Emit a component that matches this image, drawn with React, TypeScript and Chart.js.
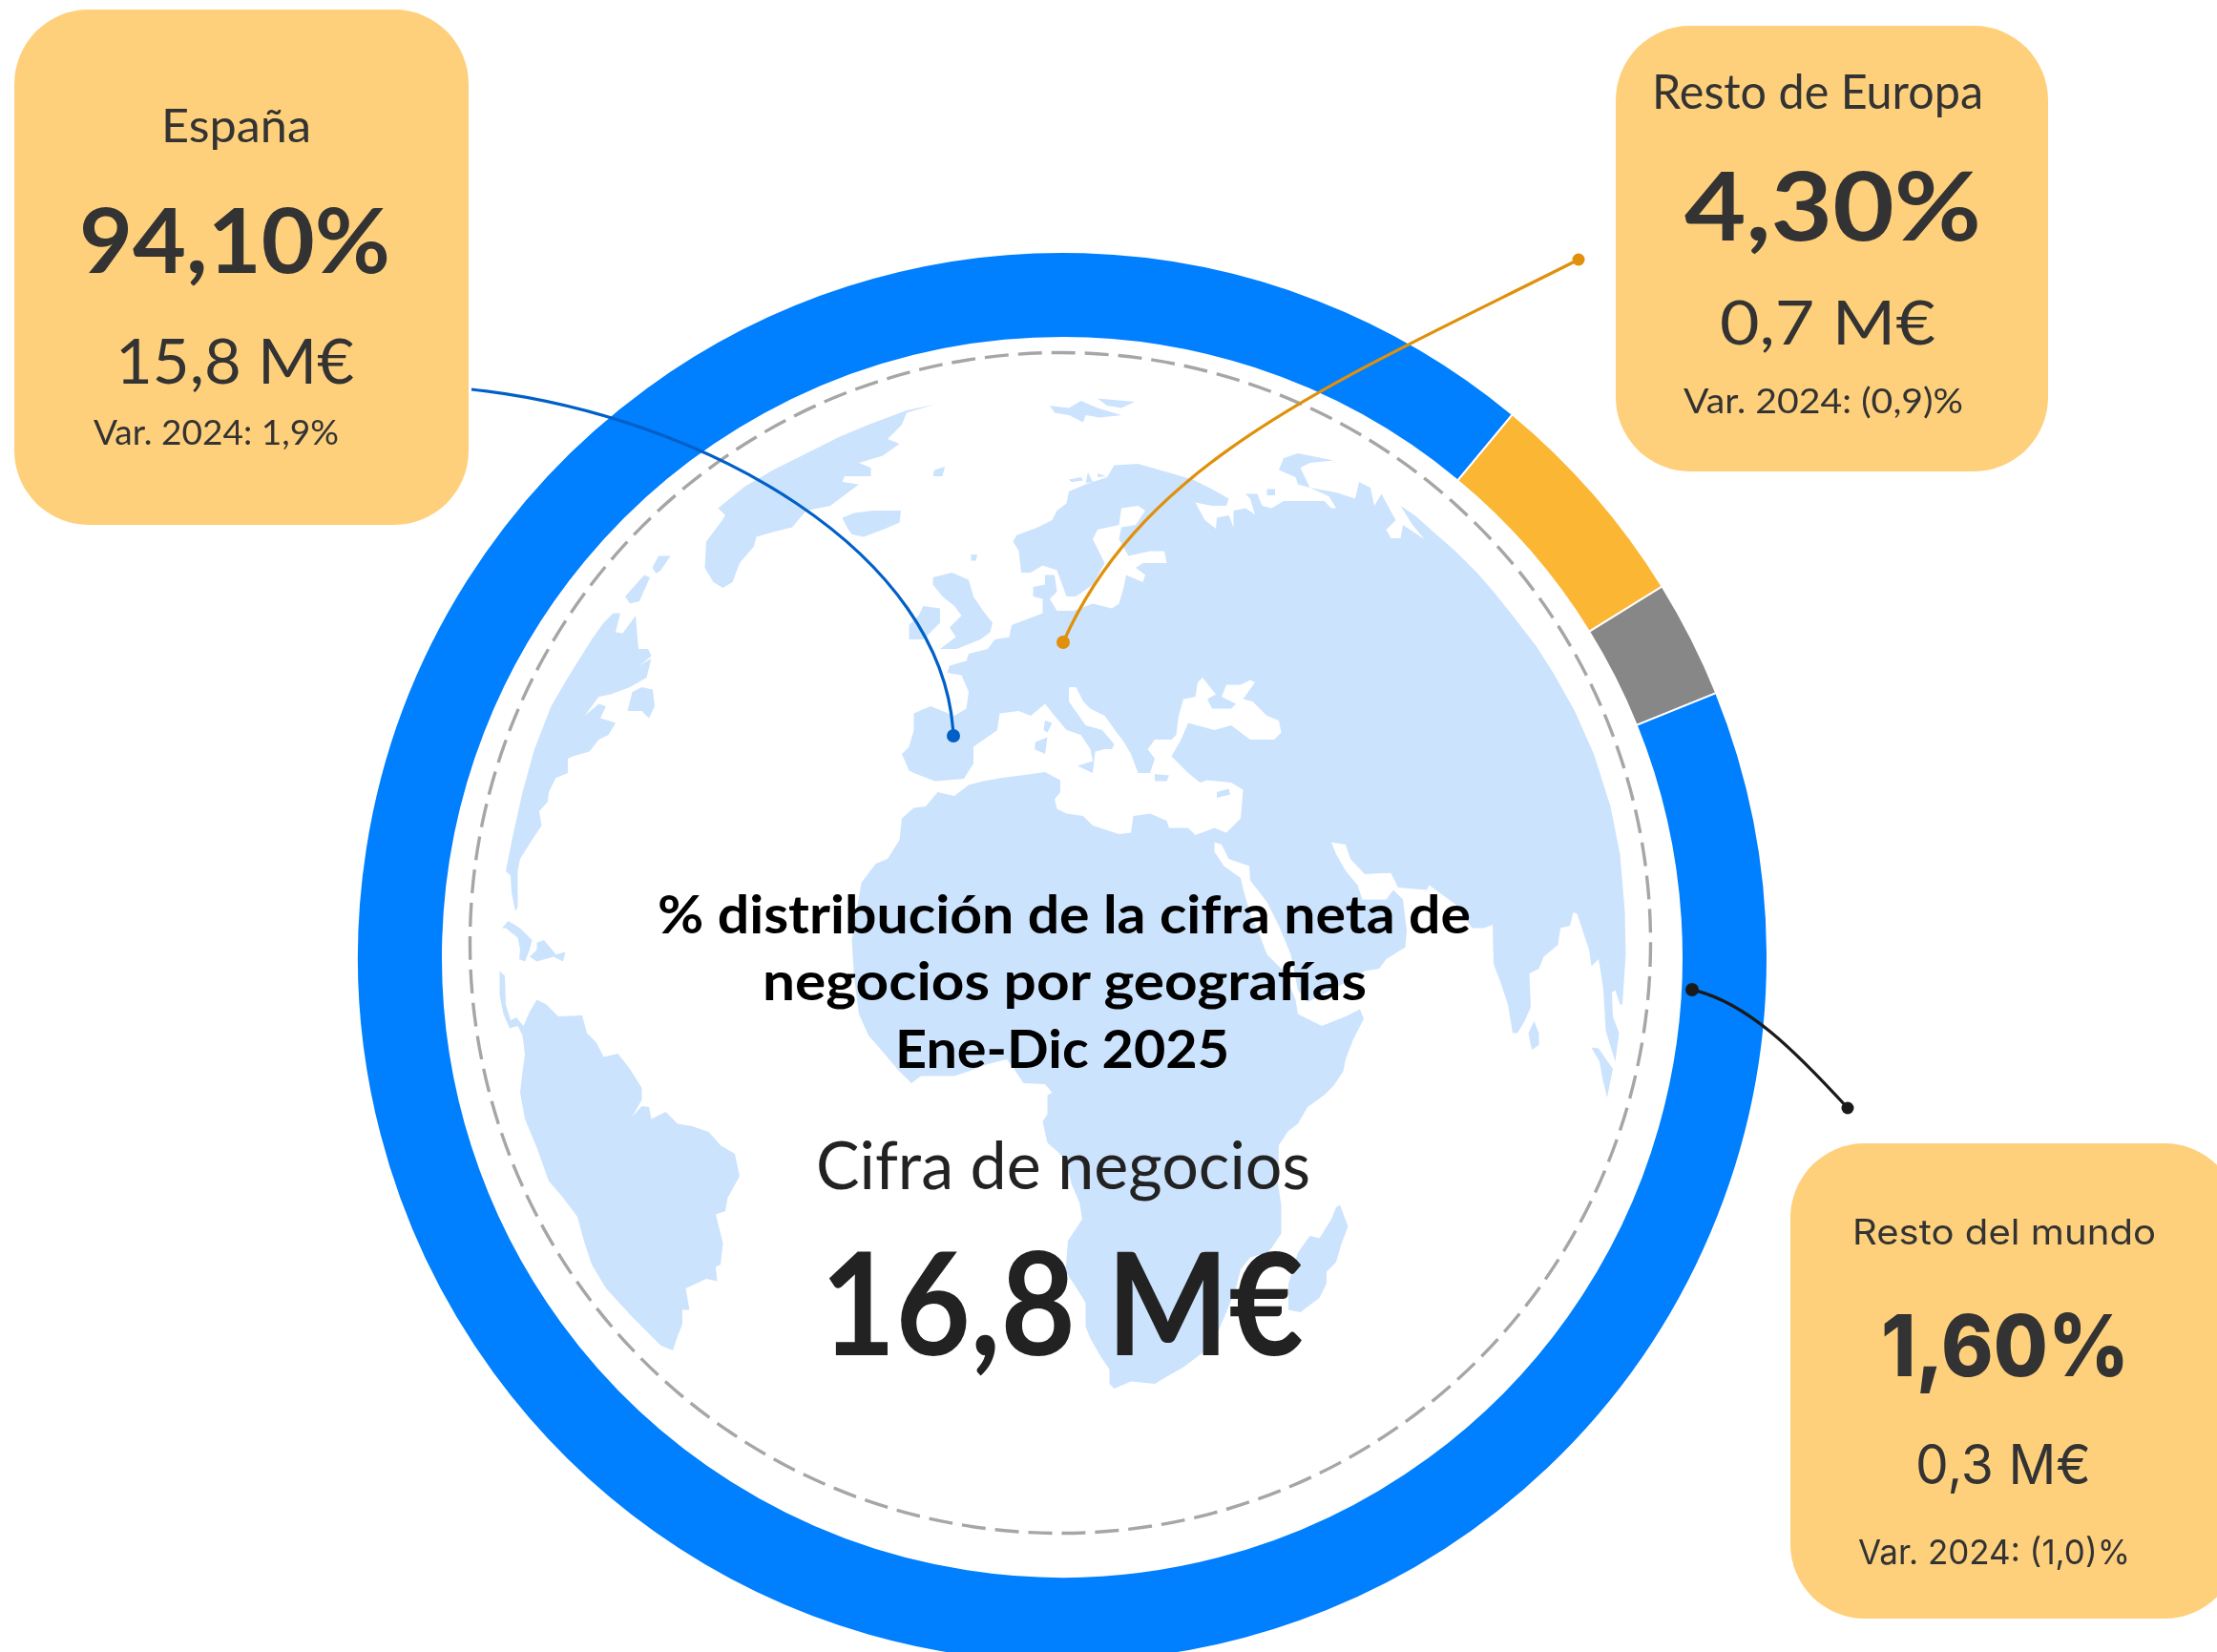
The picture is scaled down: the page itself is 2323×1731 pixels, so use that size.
import React, { useEffect, useRef } from "react";
import { Chart, registerables } from "chart.js";

Chart.register(...registerables);

/* ---------- data ---------- */
const ringLabels = ["Resto de Europa", "Resto del mundo", "España"];
// share of the ring each band occupies as drawn (%), starting at 39.7deg clockwise from the top
const ringShares = [5.17, 2.7, 92.13];
const ringColors = ["#FBB734", "#878787", "#007FFF"];

const titleLines = ["% distribución de la cifra neta de", "negocios por geografías", "Ene-Dic 2025"];
const totalLabel = "Cifra de negocios";
const totalValue = "16,8 M€";

const regionNames = ["España", "Resto de Europa", "Resto del mundo"];
const regionShares = ["94,10%", "4,30%", "1,60%"];
const regionAmounts = ["15,8 M€", "0,7 M€", "0,3 M€"];
const regionChanges = ["Var. 2024: 1,9%", "Var. 2024: (0,9)%", "Var. 2024: (1,0)%"];

/* ---------- backdrop map outlines (decoration, not data) ---------- */
const afroEurasia = `123,375 130,362 175,345 205,330 215,310 235,295 240,270 275,255 320,240 335,215 385,212 420,222 455,232 500,245 540,265 575,285 570,300 540,300 505,293 525,330 548,348 550,325 575,320 585,345 585,310 610,305 630,318 620,285 610,275 635,275 645,300 665,305 690,290 750,290 775,290 790,305 800,305 785,280 745,262 720,255 715,240 680,225 690,200 720,190 795,205 745,210 725,220 745,262 800,272 840,285 848,250 872,262 880,300 895,275 925,330 905,350 915,368 935,368 940,340 985,370 960,340 935,300 965,320 1010,360 1050,395 1095,440 1130,480 1170,530 1220,595 1255,650 1300,730 1340,820 1375,930 1395,1030 1405,1150 1407,1240 1400,1345 1395,1345 1385,1315 1378,1320 1380,1370 1393,1405 1385,1465 1365,1400 1360,1315 1355,1280 1350,1250 1335,1265 1330,1230 1305,1155 1297,1152 1290,1180 1270,1185 1265,1220 1235,1245 1225,1270 1205,1280 1208,1350 1195,1380 1180,1405 1170,1405 1160,1345 1145,1300 1130,1260 1128,1178 1110,1185 1085,1185 1050,1135 995,1095 990,1105 930,1100 915,1070 895,1070 860,1072 830,1040 820,1010 790,1005 800,1030 820,1065 845,1095 855,1125 905,1125 920,1105 940,1125 948,1190 945,1225 905,1250 890,1270 860,1275 800,1310 740,1340 720,1315 705,1240 680,1180 655,1130 620,1085 618,1055 575,1040 560,1010 545,1005 545,1025 565,1055 600,1080 607,1110 620,1155 640,1200 655,1240 690,1275 715,1335 720,1365 770,1390 820,1370 850,1355 858,1375 835,1420 820,1460 815,1485 795,1515 775,1535 740,1560 720,1595 700,1610 680,1640 678,1720 685,1765 685,1825 665,1855 655,1865 620,1875 600,1900 590,1940 570,1990 540,2060 480,2105 445,2125 420,2140 370,2135 335,2150 325,2140 325,2110 305,2080 285,2045 275,2020 275,1970 250,1930 233,1905 238,1840 268,1795 262,1760 245,1720 235,1675 218,1655 195,1635 185,1590 195,1575 195,1535 205,1530 190,1512 145,1510 125,1480 110,1460 70,1470 30,1485 0,1495 -70,1495 -90,1510 -120,1480 -145,1450 -180,1410 -200,1365 -210,1290 -215,1210 -200,1120 -195,1090 -165,1050 -140,1040 -115,1000 -110,955 -85,933 -60,930 -35,900 0,908 30,885 60,877 100,870 140,865 190,858 222,875 222,900 210,915 215,935 235,945 270,950 290,970 345,988 370,985 375,950 410,945 445,960 450,975 490,975 505,990 545,975 570,985 600,955 605,895 580,880 530,875 515,880 490,860 455,825 475,790 490,755 545,770 580,760 620,790 670,790 685,775 680,750 655,740 625,710 605,705 630,670 620,665 600,675 570,675 560,700 590,715 580,725 540,725 530,705 548,695 520,660 510,670 505,700 480,705 470,740 465,780 455,790 420,790 405,810 420,830 410,860 385,860 370,820 352,790 340,775 315,740 285,725 270,710 255,680 240,680 240,710 275,760 310,770 335,800 330,810 315,810 295,815 290,860 258,845 290,835 285,810 265,780 235,770 210,740 190,715 160,740 135,730 95,735 90,770 40,805 40,840 20,872 -40,877 -80,862 -95,855 -110,820 -95,805 -85,770 -85,735 -50,720 0,740 25,725 30,690 15,655 -15,650 -10,635 25,625 30,610 70,600 85,580 115,575 120,550 185,525 185,495 165,490 165,470 190,465 190,445 210,445 215,480 200,495 215,520 250,520 290,505 330,515 345,505 355,470 360,445 395,460 400,445 380,430 395,420 445,420 440,395 410,395 365,405 345,370 350,345 380,340 400,310 385,300 350,305 345,340 300,350 290,370 315,420 290,465 255,490 235,490 215,435 185,425 160,440 140,440 135,395`;

const eastIslands = [
  "800,1770 808,1765 825,1810 810,1850 800,1885 780,1905 780,1930 765,1960 725,1990 700,1985 700,1950 700,1930 720,1865 745,1830 765,1835 790,1795",
  "1215,1380 1225,1405 1225,1430 1210,1440 1203,1405",
  "1335,1435 1350,1437 1380,1480 1368,1540 1358,1500 1352,1465",
  "190,750 205,755 195,775 187,770",
  "170,795 195,785 190,820 168,810",
  "420,862 450,865 445,877 420,877",
  "550,900 575,893 578,905 550,912",
  "200,90 240,95 265,80 300,95 350,110 305,115 275,110 270,125 240,110 210,105",
  "300,75 378,82 350,95 320,90",
  "240,245 265,240 270,247 245,250",
  "280,230 290,250 275,252",
  "300,232 318,238 300,240",
  "655,265 672,265 672,278 655,278",
];

const westIslands = [
  "765,325 790,315 830,310 888,310 885,335 850,350 810,365 785,360 775,345",
  "1035,402 1048,402 1045,415 1035,415",
  "958,225 980,218 975,238 955,238",
  "955,450 995,440 1030,455 1040,490 1060,520 1080,545 1075,565 1055,580 1005,600 970,600 1003,575 990,555 1015,530 1000,510 975,490 955,465",
  "935,510 970,515 970,545 935,580 905,580 905,550 925,530",
  "960,87 900,100 820,130 760,155 690,190 620,225 560,260 505,305 520,320 510,335 480,375 477,430 495,460 515,472 535,460 550,420 580,385 585,365 620,355 660,345 690,310 740,300 800,255 765,250 770,238 825,238 825,220 800,210 850,195 885,170 860,160 890,130 900,105",
  "380,405 405,405 385,435 375,442 367,430",
  "350,445 362,450 340,500 320,505 310,490",
  "285,525 300,525 290,565 305,567 332,530 338,600 358,600 365,615 340,635 365,620 355,660 320,680 280,695 255,700 225,740 255,715 270,720 258,745 290,755 275,780 255,790 235,815 200,825 190,830 190,860 165,870 150,900 148,920 130,940 135,970 115,1000 90,1040 85,1065 85,1140 80,1150 72,1110 70,1075 60,1065 75,990 95,900 120,810 155,720 190,660 215,620 240,580 265,545",
  "325,690 345,680 368,685 372,720 360,745 345,730 315,730",
];

const southWest = [
  "52,245 65,230 90,245 115,270 110,290 100,315 88,310 90,290 85,265 60,245",
  "125,275 140,270 165,300 185,295 180,315 160,305 125,315 110,305 125,290",
  "47,335 58,345 60,405 70,438 82,432 97,450 110,420 125,395 145,405 170,430 220,428 230,465 250,485 265,515 295,508 320,540 345,580 345,605 325,640 345,618 360,620 365,645 395,630 420,655 450,660 485,672 510,700 540,718 550,765 525,810 520,838 500,845 515,905 510,950 500,955 503,985 480,980 437,1000 445,1045 430,1045 430,1075 420,1100 410,1130 385,1120 325,1060 270,1000 240,950 225,905 210,850 180,810 150,775 125,705 100,645 90,590 95,545 100,510 95,470 85,450 68,455 55,425 47,385",
];

const LAND = "#CCE3FD";
const INK = "#333333";
const BOX = "#FED07B";

type T = { s: string; x: number; w: number; y: number; size: number; weight: number; fill: string; font: string };

const OUT = "Lato, sans-serif";
const MON = "Inter, sans-serif";

const texts: T[] = [
  { s: titleLines[0], x: 689, w: 852, y: 978, size: 55, weight: 700, fill: "#000", font: OUT },
  { s: titleLines[1], x: 799, w: 633, y: 1048, size: 55, weight: 700, fill: "#000", font: OUT },
  { s: titleLines[2], x: 938, w: 350, y: 1119, size: 55, weight: 700, fill: "#000", font: OUT },
  { s: totalLabel, x: 855, w: 518, y: 1246, size: 70, weight: 400, fill: "#222", font: OUT },
  { s: totalValue, x: 860, w: 506, y: 1420, size: 150, weight: 700, fill: "#222", font: OUT },

  { s: regionNames[0], x: 169, w: 157, y: 149, size: 48, weight: 400, fill: INK, font: OUT },
  { s: regionShares[0], x: 83, w: 326, y: 286, size: 94, weight: 700, fill: INK, font: OUT },
  { s: regionAmounts[0], x: 121, w: 250, y: 402, size: 65, weight: 400, fill: INK, font: OUT },
  { s: regionChanges[0], x: 98, w: 257, y: 466, size: 36, weight: 400, fill: INK, font: OUT },

  { s: regionNames[1], x: 1731, w: 347, y: 114, size: 50, weight: 400, fill: INK, font: OUT },
  { s: regionShares[1], x: 1765, w: 311, y: 252, size: 100, weight: 700, fill: INK, font: OUT },
  { s: regionAmounts[1], x: 1802, w: 226, y: 361, size: 64, weight: 400, fill: INK, font: OUT },
  { s: regionChanges[1], x: 1764, w: 293, y: 433, size: 37, weight: 400, fill: INK, font: OUT },

  { s: regionNames[2], x: 1941, w: 318, y: 1304, size: 37, weight: 400, fill: INK, font: MON },
  { s: regionShares[2], x: 1971, w: 260, y: 1442, size: 90, weight: 800, fill: INK, font: MON },
  { s: regionAmounts[2], x: 2007, w: 184, y: 1555, size: 57, weight: 400, fill: INK, font: MON },
  { s: regionChanges[2], x: 1947, w: 285, y: 1639, size: 36, weight: 400, fill: INK, font: MON },
];

const boxes = [
  { x: 15, y: 10, w: 476, h: 540, r: 78 },
  { x: 1693, y: 27, w: 453, h: 467, r: 78 },
  { x: 1876, y: 1198, w: 470, h: 498, r: 78 },
];

const links = [
  { d: "M494,408 C740,435 990,580 999,771", c: "#0060C7", from: [999, 771], to: null as number[] | null },
  { d: "M1114,673 C1200,480 1400,400 1654,272", c: "#E0900A", from: [1114, 673], to: [1654, 272] },
  { d: "M1773,1037 C1830,1050 1880,1100 1936,1161", c: "#1A1A1A", from: [1773, 1037], to: [1936, 1161] },
];

export default function App() {
  const ref = useRef<HTMLCanvasElement | null>(null);

  useEffect(() => {
    if (!ref.current) return;
    const chart = new Chart(ref.current, {
      type: "doughnut",
      data: {
        labels: ringLabels,
        datasets: [
          {
            data: ringShares,
            backgroundColor: ringColors,
            borderColor: "#FFFFFF",
            borderWidth: 2,
          },
        ],
      },
      options: {
        responsive: false,
        animation: false,
        rotation: 39.67,
        cutout: 649,
        layout: { padding: 10 },
        plugins: { legend: { display: false }, tooltip: { enabled: false }, title: { display: false } },
      },
    });
    return () => chart.destroy();
  }, []);

  const page: React.CSSProperties = { position: "absolute", left: 0, top: 0 };

  return (
    <div style={{ position: "absolute", left: 0, top: 0, width: 2323, height: 1731, overflow: "hidden", background: "#fff" }}>
      <svg width={2323} height={1731} style={page}>
        <g transform="translate(1000,380) scale(0.5)" fill={LAND}>
          <polygon points={afroEurasia} />
          {eastIslands.map((p, i) => (
            <polygon key={i} points={p} />
          ))}
        </g>
        <g transform="translate(500,380) scale(0.5)" fill={LAND}>
          {westIslands.map((p, i) => (
            <polygon key={i} points={p} />
          ))}
        </g>
        <g transform="translate(500,850) scale(0.5)" fill={LAND}>
          {southWest.map((p, i) => (
            <polygon key={i} points={p} />
          ))}
        </g>
        <circle cx={1111} cy={988} r={618.5} fill="none" stroke="#A6A6A6" strokeWidth={3.4} strokeDasharray="25 10" />
      </svg>

      <canvas ref={ref} width={1500} height={1500} style={{ position: "absolute", left: 363, top: 253, width: 1500, height: 1500 }} />

      <svg width={2323} height={1731} style={page}>
        {boxes.map((b, i) => (
          <rect key={i} x={b.x} y={b.y} width={b.w} height={b.h} rx={b.r} ry={b.r} fill={BOX} />
        ))}
        {links.map((l, i) => (
          <g key={i}>
            <path d={l.d} fill="none" stroke={l.c} strokeWidth={3.2} />
            <circle cx={l.from[0]} cy={l.from[1]} r={7} fill={l.c} />
            {l.to && <circle cx={l.to[0]} cy={l.to[1]} r={6.5} fill={l.c} />}
          </g>
        ))}
        {texts.map((t, i) => (
          <text
            key={i}
            x={t.x}
            y={t.y}
            textLength={t.w}
            lengthAdjust="spacingAndGlyphs"
            fontFamily={t.font}
            fontSize={t.size}
            fontWeight={t.weight}
            fill={t.fill}
          >
            {t.s}
          </text>
        ))}
      </svg>
    </div>
  );
}
